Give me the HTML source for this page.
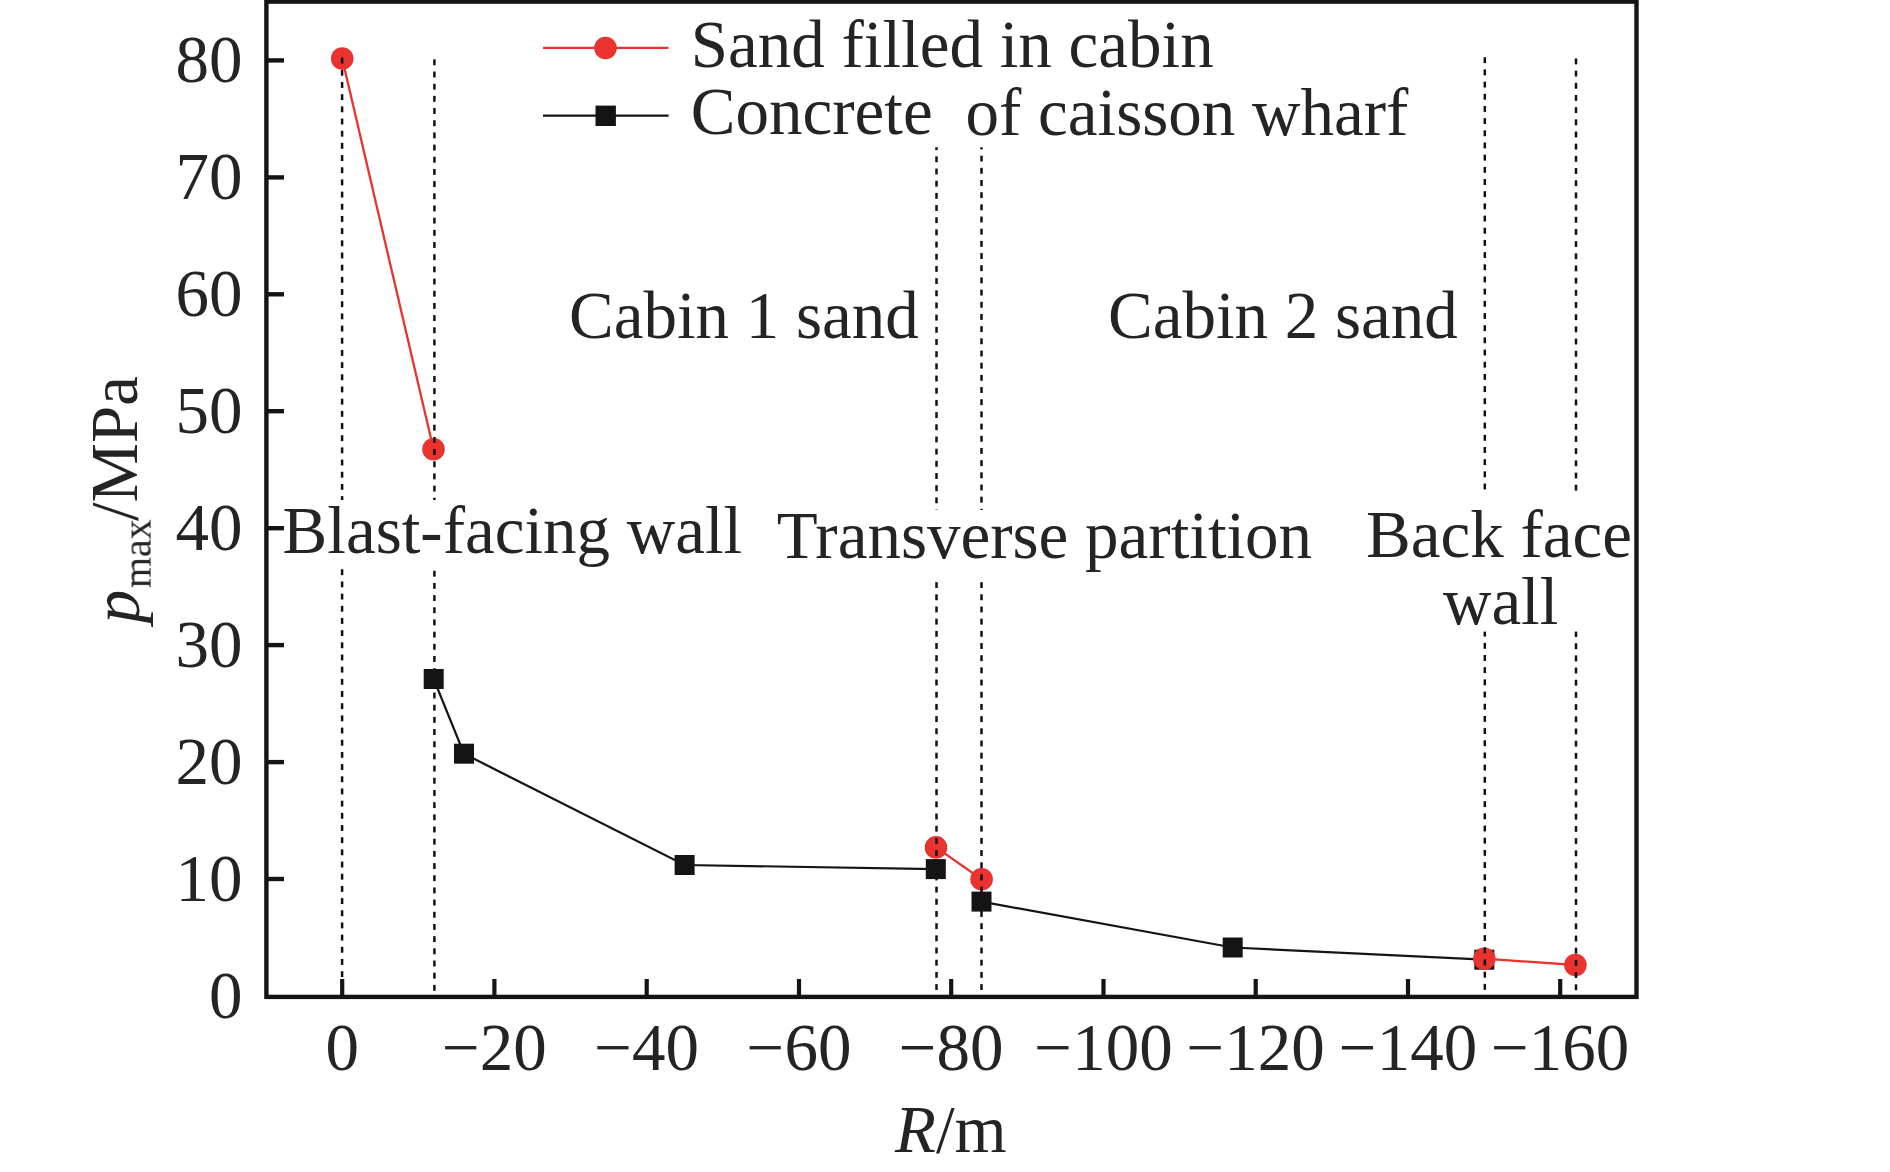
<!DOCTYPE html><html><head><meta charset="utf-8"><style>html,body{margin:0;padding:0;background:#fff;}svg{display:block;}</style></head><body>
<svg width="1890" height="1172" viewBox="0 0 1890 1172">
<rect width="1890" height="1172" fill="#fff"/>
<g font-family="'Liberation Serif', serif" font-size="67" fill="#262324">
<text x="242.5" y="1017.5" text-anchor="end">0</text>
<text x="242.5" y="900.5" text-anchor="end">10</text>
<text x="242.5" y="783.6" text-anchor="end">20</text>
<text x="242.5" y="666.6" text-anchor="end">30</text>
<text x="242.5" y="549.7" text-anchor="end">40</text>
<text x="242.5" y="432.8" text-anchor="end">50</text>
<text x="242.5" y="315.8" text-anchor="end">60</text>
<text x="242.5" y="198.9" text-anchor="end">70</text>
<text x="242.5" y="81.9" text-anchor="end">80</text>
<text x="342.2" y="1069.5" text-anchor="middle">0</text>
<text x="494.4" y="1069.5" text-anchor="middle">−20</text>
<text x="646.7" y="1069.5" text-anchor="middle">−40</text>
<text x="799.0" y="1069.5" text-anchor="middle">−60</text>
<text x="951.2" y="1069.5" text-anchor="middle">−80</text>
<text x="1103.5" y="1069.5" text-anchor="middle">−100</text>
<text x="1255.7" y="1069.5" text-anchor="middle">−120</text>
<text x="1408.0" y="1069.5" text-anchor="middle">−140</text>
<text x="1560.2" y="1069.5" text-anchor="middle">−160</text>
<text x="690.8" y="67.3">Sand filled in cabin</text>
<text x="690.8" y="133.8">Concrete</text>
<text x="965.5" y="134.6">of caisson wharf</text>
<text x="569" y="338.3">Cabin 1 sand</text>
<text x="1108" y="337.5">Cabin 2 sand</text>
<text x="282.6" y="553.4">Blast-facing wall</text>
<text x="776.8" y="558.1">Transverse partition</text>
<text x="1366" y="556.7">Back face</text>
<text x="1443" y="624.3">wall</text>
<text x="895" y="1151.9"><tspan font-style="italic">R</tspan>/m</text>
<text transform="translate(139,630) rotate(-90)"><tspan x="6.75" y="0" font-style="italic">p</tspan><tspan x="108.9" y="-2.5">/MPa</tspan></text>
<g style="will-change:transform"><text transform="translate(151,588.1) rotate(-90) scale(0.597)">max</text></g>
</g>
<polyline points="981.5,901.6 1232.7,947.5 1484.3,959.7" fill="none" stroke="#141414" stroke-width="2.2"/>
<rect x="1222.7" y="937.5" width="20" height="20" fill="#141414"/>
<rect x="1474.3" y="949.7" width="20" height="20" fill="#141414"/>
<polyline points="342.2,58.5 433.5,449.3" fill="none" stroke="#e8332f" stroke-width="2.3"/>
<circle cx="342.2" cy="58.5" r="11.3" fill="#e8332f"/>
<circle cx="433.5" cy="449.3" r="11.3" fill="#e8332f"/>
<polyline points="936.0,847.4 981.6,879.2" fill="none" stroke="#e8332f" stroke-width="2.3"/>
<circle cx="936.0" cy="847.4" r="11.3" fill="#e8332f"/>
<circle cx="981.6" cy="879.2" r="11.3" fill="#e8332f"/>
<polyline points="1484.3,958.7 1575.4,965.0" fill="none" stroke="#e8332f" stroke-width="2.3"/>
<circle cx="1484.3" cy="958.7" r="11.3" fill="#e8332f"/>
<circle cx="1575.4" cy="965.0" r="11.3" fill="#e8332f"/>
<rect x="340.85" y="57.65" width="2.5" height="5.90" fill="#111"/>
<rect x="340.85" y="69.83" width="2.5" height="5.90" fill="#111"/>
<rect x="340.85" y="82.01" width="2.5" height="5.90" fill="#111"/>
<rect x="340.85" y="94.19" width="2.5" height="5.90" fill="#111"/>
<rect x="340.85" y="106.37" width="2.5" height="5.90" fill="#111"/>
<rect x="340.85" y="118.55" width="2.5" height="5.90" fill="#111"/>
<rect x="340.85" y="130.73" width="2.5" height="5.90" fill="#111"/>
<rect x="340.85" y="142.91" width="2.5" height="5.90" fill="#111"/>
<rect x="340.85" y="155.09" width="2.5" height="5.90" fill="#111"/>
<rect x="340.85" y="167.27" width="2.5" height="5.90" fill="#111"/>
<rect x="340.85" y="179.45" width="2.5" height="5.90" fill="#111"/>
<rect x="340.85" y="191.63" width="2.5" height="5.90" fill="#111"/>
<rect x="340.85" y="203.81" width="2.5" height="5.90" fill="#111"/>
<rect x="340.85" y="215.99" width="2.5" height="5.90" fill="#111"/>
<rect x="340.85" y="228.17" width="2.5" height="5.90" fill="#111"/>
<rect x="340.85" y="240.35" width="2.5" height="5.90" fill="#111"/>
<rect x="340.85" y="252.53" width="2.5" height="5.90" fill="#111"/>
<rect x="340.85" y="264.71" width="2.5" height="5.90" fill="#111"/>
<rect x="340.85" y="276.89" width="2.5" height="5.90" fill="#111"/>
<rect x="340.85" y="289.07" width="2.5" height="5.90" fill="#111"/>
<rect x="340.85" y="301.25" width="2.5" height="5.90" fill="#111"/>
<rect x="340.85" y="313.43" width="2.5" height="5.90" fill="#111"/>
<rect x="340.85" y="325.61" width="2.5" height="5.90" fill="#111"/>
<rect x="340.85" y="337.79" width="2.5" height="5.90" fill="#111"/>
<rect x="340.85" y="349.97" width="2.5" height="5.90" fill="#111"/>
<rect x="340.85" y="362.15" width="2.5" height="5.90" fill="#111"/>
<rect x="340.85" y="374.33" width="2.5" height="5.90" fill="#111"/>
<rect x="340.85" y="386.51" width="2.5" height="5.90" fill="#111"/>
<rect x="340.85" y="398.69" width="2.5" height="5.90" fill="#111"/>
<rect x="340.85" y="410.87" width="2.5" height="5.90" fill="#111"/>
<rect x="340.85" y="423.05" width="2.5" height="5.90" fill="#111"/>
<rect x="340.85" y="435.23" width="2.5" height="5.90" fill="#111"/>
<rect x="340.85" y="447.41" width="2.5" height="5.90" fill="#111"/>
<rect x="340.85" y="459.59" width="2.5" height="5.90" fill="#111"/>
<rect x="340.85" y="471.77" width="2.5" height="5.90" fill="#111"/>
<rect x="340.85" y="483.95" width="2.5" height="5.90" fill="#111"/>
<rect x="340.85" y="496.13" width="2.5" height="3.87" fill="#111"/>
<rect x="340.85" y="569.25" width="2.5" height="5.90" fill="#111"/>
<rect x="340.85" y="581.43" width="2.5" height="5.90" fill="#111"/>
<rect x="340.85" y="593.61" width="2.5" height="5.90" fill="#111"/>
<rect x="340.85" y="605.79" width="2.5" height="5.90" fill="#111"/>
<rect x="340.85" y="617.97" width="2.5" height="5.90" fill="#111"/>
<rect x="340.85" y="630.15" width="2.5" height="5.90" fill="#111"/>
<rect x="340.85" y="642.33" width="2.5" height="5.90" fill="#111"/>
<rect x="340.85" y="654.51" width="2.5" height="5.90" fill="#111"/>
<rect x="340.85" y="666.69" width="2.5" height="5.90" fill="#111"/>
<rect x="340.85" y="678.87" width="2.5" height="5.90" fill="#111"/>
<rect x="340.85" y="691.05" width="2.5" height="5.90" fill="#111"/>
<rect x="340.85" y="703.23" width="2.5" height="5.90" fill="#111"/>
<rect x="340.85" y="715.41" width="2.5" height="5.90" fill="#111"/>
<rect x="340.85" y="727.59" width="2.5" height="5.90" fill="#111"/>
<rect x="340.85" y="739.77" width="2.5" height="5.90" fill="#111"/>
<rect x="340.85" y="751.95" width="2.5" height="5.90" fill="#111"/>
<rect x="340.85" y="764.13" width="2.5" height="5.90" fill="#111"/>
<rect x="340.85" y="776.31" width="2.5" height="5.90" fill="#111"/>
<rect x="340.85" y="788.49" width="2.5" height="5.90" fill="#111"/>
<rect x="340.85" y="800.67" width="2.5" height="5.90" fill="#111"/>
<rect x="340.85" y="812.85" width="2.5" height="5.90" fill="#111"/>
<rect x="340.85" y="825.03" width="2.5" height="5.90" fill="#111"/>
<rect x="340.85" y="837.21" width="2.5" height="5.90" fill="#111"/>
<rect x="340.85" y="849.39" width="2.5" height="5.90" fill="#111"/>
<rect x="340.85" y="861.57" width="2.5" height="5.90" fill="#111"/>
<rect x="340.85" y="873.75" width="2.5" height="5.90" fill="#111"/>
<rect x="340.85" y="885.93" width="2.5" height="5.90" fill="#111"/>
<rect x="340.85" y="898.11" width="2.5" height="5.90" fill="#111"/>
<rect x="340.85" y="910.29" width="2.5" height="5.90" fill="#111"/>
<rect x="340.85" y="922.47" width="2.5" height="5.90" fill="#111"/>
<rect x="340.85" y="934.65" width="2.5" height="5.90" fill="#111"/>
<rect x="340.85" y="946.83" width="2.5" height="5.90" fill="#111"/>
<rect x="340.85" y="959.01" width="2.5" height="5.90" fill="#111"/>
<rect x="340.85" y="971.19" width="2.5" height="5.90" fill="#111"/>
<rect x="340.85" y="983.37" width="2.5" height="5.90" fill="#111"/>
<rect x="433.15" y="59.35" width="2.5" height="5.90" fill="#111"/>
<rect x="433.15" y="71.53" width="2.5" height="5.90" fill="#111"/>
<rect x="433.15" y="83.71" width="2.5" height="5.90" fill="#111"/>
<rect x="433.15" y="95.89" width="2.5" height="5.90" fill="#111"/>
<rect x="433.15" y="108.07" width="2.5" height="5.90" fill="#111"/>
<rect x="433.15" y="120.25" width="2.5" height="5.90" fill="#111"/>
<rect x="433.15" y="132.43" width="2.5" height="5.90" fill="#111"/>
<rect x="433.15" y="144.61" width="2.5" height="5.90" fill="#111"/>
<rect x="433.15" y="156.79" width="2.5" height="5.90" fill="#111"/>
<rect x="433.15" y="168.97" width="2.5" height="5.90" fill="#111"/>
<rect x="433.15" y="181.15" width="2.5" height="5.90" fill="#111"/>
<rect x="433.15" y="193.33" width="2.5" height="5.90" fill="#111"/>
<rect x="433.15" y="205.51" width="2.5" height="5.90" fill="#111"/>
<rect x="433.15" y="217.69" width="2.5" height="5.90" fill="#111"/>
<rect x="433.15" y="229.87" width="2.5" height="5.90" fill="#111"/>
<rect x="433.15" y="242.05" width="2.5" height="5.90" fill="#111"/>
<rect x="433.15" y="254.23" width="2.5" height="5.90" fill="#111"/>
<rect x="433.15" y="266.41" width="2.5" height="5.90" fill="#111"/>
<rect x="433.15" y="278.59" width="2.5" height="5.90" fill="#111"/>
<rect x="433.15" y="290.77" width="2.5" height="5.90" fill="#111"/>
<rect x="433.15" y="302.95" width="2.5" height="5.90" fill="#111"/>
<rect x="433.15" y="315.13" width="2.5" height="5.90" fill="#111"/>
<rect x="433.15" y="327.31" width="2.5" height="5.90" fill="#111"/>
<rect x="433.15" y="339.49" width="2.5" height="5.90" fill="#111"/>
<rect x="433.15" y="351.67" width="2.5" height="5.90" fill="#111"/>
<rect x="433.15" y="363.85" width="2.5" height="5.90" fill="#111"/>
<rect x="433.15" y="376.03" width="2.5" height="5.90" fill="#111"/>
<rect x="433.15" y="388.21" width="2.5" height="5.90" fill="#111"/>
<rect x="433.15" y="400.39" width="2.5" height="5.90" fill="#111"/>
<rect x="433.15" y="412.57" width="2.5" height="5.90" fill="#111"/>
<rect x="433.15" y="424.75" width="2.5" height="5.90" fill="#111"/>
<rect x="433.15" y="436.93" width="2.5" height="5.90" fill="#111"/>
<rect x="433.15" y="449.11" width="2.5" height="5.90" fill="#111"/>
<rect x="433.15" y="461.29" width="2.5" height="5.90" fill="#111"/>
<rect x="433.15" y="473.47" width="2.5" height="5.90" fill="#111"/>
<rect x="433.15" y="485.65" width="2.5" height="5.90" fill="#111"/>
<rect x="433.15" y="497.83" width="2.5" height="2.17" fill="#111"/>
<rect x="433.15" y="570.75" width="2.5" height="5.90" fill="#111"/>
<rect x="433.15" y="582.93" width="2.5" height="5.90" fill="#111"/>
<rect x="433.15" y="595.11" width="2.5" height="5.90" fill="#111"/>
<rect x="433.15" y="607.29" width="2.5" height="5.90" fill="#111"/>
<rect x="433.15" y="619.47" width="2.5" height="5.90" fill="#111"/>
<rect x="433.15" y="631.65" width="2.5" height="5.90" fill="#111"/>
<rect x="433.15" y="643.83" width="2.5" height="5.90" fill="#111"/>
<rect x="433.15" y="656.01" width="2.5" height="5.90" fill="#111"/>
<rect x="433.15" y="668.19" width="2.5" height="5.90" fill="#111"/>
<rect x="433.15" y="680.37" width="2.5" height="5.90" fill="#111"/>
<rect x="433.15" y="692.55" width="2.5" height="5.90" fill="#111"/>
<rect x="433.15" y="704.73" width="2.5" height="5.90" fill="#111"/>
<rect x="433.15" y="716.91" width="2.5" height="5.90" fill="#111"/>
<rect x="433.15" y="729.09" width="2.5" height="5.90" fill="#111"/>
<rect x="433.15" y="741.27" width="2.5" height="5.90" fill="#111"/>
<rect x="433.15" y="753.45" width="2.5" height="5.90" fill="#111"/>
<rect x="433.15" y="765.63" width="2.5" height="5.90" fill="#111"/>
<rect x="433.15" y="777.81" width="2.5" height="5.90" fill="#111"/>
<rect x="433.15" y="789.99" width="2.5" height="5.90" fill="#111"/>
<rect x="433.15" y="802.17" width="2.5" height="5.90" fill="#111"/>
<rect x="433.15" y="814.35" width="2.5" height="5.90" fill="#111"/>
<rect x="433.15" y="826.53" width="2.5" height="5.90" fill="#111"/>
<rect x="433.15" y="838.71" width="2.5" height="5.90" fill="#111"/>
<rect x="433.15" y="850.89" width="2.5" height="5.90" fill="#111"/>
<rect x="433.15" y="863.07" width="2.5" height="5.90" fill="#111"/>
<rect x="433.15" y="875.25" width="2.5" height="5.90" fill="#111"/>
<rect x="433.15" y="887.43" width="2.5" height="5.90" fill="#111"/>
<rect x="433.15" y="899.61" width="2.5" height="5.90" fill="#111"/>
<rect x="433.15" y="911.79" width="2.5" height="5.90" fill="#111"/>
<rect x="433.15" y="923.97" width="2.5" height="5.90" fill="#111"/>
<rect x="433.15" y="936.15" width="2.5" height="5.90" fill="#111"/>
<rect x="433.15" y="948.33" width="2.5" height="5.90" fill="#111"/>
<rect x="433.15" y="960.51" width="2.5" height="5.90" fill="#111"/>
<rect x="433.15" y="972.69" width="2.5" height="5.90" fill="#111"/>
<rect x="433.15" y="984.87" width="2.5" height="5.90" fill="#111"/>
<rect x="935.25" y="147.30" width="2.5" height="2.77" fill="#111"/>
<rect x="935.25" y="156.35" width="2.5" height="5.90" fill="#111"/>
<rect x="935.25" y="168.53" width="2.5" height="5.90" fill="#111"/>
<rect x="935.25" y="180.71" width="2.5" height="5.90" fill="#111"/>
<rect x="935.25" y="192.89" width="2.5" height="5.90" fill="#111"/>
<rect x="935.25" y="205.07" width="2.5" height="5.90" fill="#111"/>
<rect x="935.25" y="217.25" width="2.5" height="5.90" fill="#111"/>
<rect x="935.25" y="229.43" width="2.5" height="5.90" fill="#111"/>
<rect x="935.25" y="241.61" width="2.5" height="5.90" fill="#111"/>
<rect x="935.25" y="253.79" width="2.5" height="5.90" fill="#111"/>
<rect x="935.25" y="265.97" width="2.5" height="5.90" fill="#111"/>
<rect x="935.25" y="278.15" width="2.5" height="5.90" fill="#111"/>
<rect x="935.25" y="290.33" width="2.5" height="5.90" fill="#111"/>
<rect x="935.25" y="302.51" width="2.5" height="5.90" fill="#111"/>
<rect x="935.25" y="314.69" width="2.5" height="5.90" fill="#111"/>
<rect x="935.25" y="326.87" width="2.5" height="5.90" fill="#111"/>
<rect x="935.25" y="339.05" width="2.5" height="5.90" fill="#111"/>
<rect x="935.25" y="351.23" width="2.5" height="5.90" fill="#111"/>
<rect x="935.25" y="363.41" width="2.5" height="5.90" fill="#111"/>
<rect x="935.25" y="375.59" width="2.5" height="5.90" fill="#111"/>
<rect x="935.25" y="387.77" width="2.5" height="5.90" fill="#111"/>
<rect x="935.25" y="399.95" width="2.5" height="5.90" fill="#111"/>
<rect x="935.25" y="412.13" width="2.5" height="5.90" fill="#111"/>
<rect x="935.25" y="424.31" width="2.5" height="5.90" fill="#111"/>
<rect x="935.25" y="436.49" width="2.5" height="5.90" fill="#111"/>
<rect x="935.25" y="448.67" width="2.5" height="5.90" fill="#111"/>
<rect x="935.25" y="460.85" width="2.5" height="5.90" fill="#111"/>
<rect x="935.25" y="473.03" width="2.5" height="5.90" fill="#111"/>
<rect x="935.25" y="485.21" width="2.5" height="5.90" fill="#111"/>
<rect x="935.25" y="497.39" width="2.5" height="5.90" fill="#111"/>
<rect x="935.25" y="509.57" width="2.5" height="0.43" fill="#111"/>
<rect x="935.25" y="582.15" width="2.5" height="5.90" fill="#111"/>
<rect x="935.25" y="594.33" width="2.5" height="5.90" fill="#111"/>
<rect x="935.25" y="606.51" width="2.5" height="5.90" fill="#111"/>
<rect x="935.25" y="618.69" width="2.5" height="5.90" fill="#111"/>
<rect x="935.25" y="630.87" width="2.5" height="5.90" fill="#111"/>
<rect x="935.25" y="643.05" width="2.5" height="5.90" fill="#111"/>
<rect x="935.25" y="655.23" width="2.5" height="5.90" fill="#111"/>
<rect x="935.25" y="667.41" width="2.5" height="5.90" fill="#111"/>
<rect x="935.25" y="679.59" width="2.5" height="5.90" fill="#111"/>
<rect x="935.25" y="691.77" width="2.5" height="5.90" fill="#111"/>
<rect x="935.25" y="703.95" width="2.5" height="5.90" fill="#111"/>
<rect x="935.25" y="716.13" width="2.5" height="5.90" fill="#111"/>
<rect x="935.25" y="728.31" width="2.5" height="5.90" fill="#111"/>
<rect x="935.25" y="740.49" width="2.5" height="5.90" fill="#111"/>
<rect x="935.25" y="752.67" width="2.5" height="5.90" fill="#111"/>
<rect x="935.25" y="764.85" width="2.5" height="5.90" fill="#111"/>
<rect x="935.25" y="777.03" width="2.5" height="5.90" fill="#111"/>
<rect x="935.25" y="789.21" width="2.5" height="5.90" fill="#111"/>
<rect x="935.25" y="801.39" width="2.5" height="5.90" fill="#111"/>
<rect x="935.25" y="813.57" width="2.5" height="5.90" fill="#111"/>
<rect x="935.25" y="825.75" width="2.5" height="5.90" fill="#111"/>
<rect x="935.25" y="837.93" width="2.5" height="5.90" fill="#111"/>
<rect x="935.25" y="850.11" width="2.5" height="5.90" fill="#111"/>
<rect x="935.25" y="862.29" width="2.5" height="5.90" fill="#111"/>
<rect x="935.25" y="874.47" width="2.5" height="5.90" fill="#111"/>
<rect x="935.25" y="886.65" width="2.5" height="5.90" fill="#111"/>
<rect x="935.25" y="898.83" width="2.5" height="5.90" fill="#111"/>
<rect x="935.25" y="911.01" width="2.5" height="5.90" fill="#111"/>
<rect x="935.25" y="923.19" width="2.5" height="5.90" fill="#111"/>
<rect x="935.25" y="935.37" width="2.5" height="5.90" fill="#111"/>
<rect x="935.25" y="947.55" width="2.5" height="5.90" fill="#111"/>
<rect x="935.25" y="959.73" width="2.5" height="5.90" fill="#111"/>
<rect x="935.25" y="971.91" width="2.5" height="5.90" fill="#111"/>
<rect x="935.25" y="984.09" width="2.5" height="5.90" fill="#111"/>
<rect x="980.25" y="147.30" width="2.5" height="2.07" fill="#111"/>
<rect x="980.25" y="155.65" width="2.5" height="5.90" fill="#111"/>
<rect x="980.25" y="167.83" width="2.5" height="5.90" fill="#111"/>
<rect x="980.25" y="180.01" width="2.5" height="5.90" fill="#111"/>
<rect x="980.25" y="192.19" width="2.5" height="5.90" fill="#111"/>
<rect x="980.25" y="204.37" width="2.5" height="5.90" fill="#111"/>
<rect x="980.25" y="216.55" width="2.5" height="5.90" fill="#111"/>
<rect x="980.25" y="228.73" width="2.5" height="5.90" fill="#111"/>
<rect x="980.25" y="240.91" width="2.5" height="5.90" fill="#111"/>
<rect x="980.25" y="253.09" width="2.5" height="5.90" fill="#111"/>
<rect x="980.25" y="265.27" width="2.5" height="5.90" fill="#111"/>
<rect x="980.25" y="277.45" width="2.5" height="5.90" fill="#111"/>
<rect x="980.25" y="289.63" width="2.5" height="5.90" fill="#111"/>
<rect x="980.25" y="301.81" width="2.5" height="5.90" fill="#111"/>
<rect x="980.25" y="313.99" width="2.5" height="5.90" fill="#111"/>
<rect x="980.25" y="326.17" width="2.5" height="5.90" fill="#111"/>
<rect x="980.25" y="338.35" width="2.5" height="5.90" fill="#111"/>
<rect x="980.25" y="350.53" width="2.5" height="5.90" fill="#111"/>
<rect x="980.25" y="362.71" width="2.5" height="5.90" fill="#111"/>
<rect x="980.25" y="374.89" width="2.5" height="5.90" fill="#111"/>
<rect x="980.25" y="387.07" width="2.5" height="5.90" fill="#111"/>
<rect x="980.25" y="399.25" width="2.5" height="5.90" fill="#111"/>
<rect x="980.25" y="411.43" width="2.5" height="5.90" fill="#111"/>
<rect x="980.25" y="423.61" width="2.5" height="5.90" fill="#111"/>
<rect x="980.25" y="435.79" width="2.5" height="5.90" fill="#111"/>
<rect x="980.25" y="447.97" width="2.5" height="5.90" fill="#111"/>
<rect x="980.25" y="460.15" width="2.5" height="5.90" fill="#111"/>
<rect x="980.25" y="472.33" width="2.5" height="5.90" fill="#111"/>
<rect x="980.25" y="484.51" width="2.5" height="5.90" fill="#111"/>
<rect x="980.25" y="496.69" width="2.5" height="5.90" fill="#111"/>
<rect x="980.25" y="508.87" width="2.5" height="1.13" fill="#111"/>
<rect x="980.25" y="582.15" width="2.5" height="5.90" fill="#111"/>
<rect x="980.25" y="594.33" width="2.5" height="5.90" fill="#111"/>
<rect x="980.25" y="606.51" width="2.5" height="5.90" fill="#111"/>
<rect x="980.25" y="618.69" width="2.5" height="5.90" fill="#111"/>
<rect x="980.25" y="630.87" width="2.5" height="5.90" fill="#111"/>
<rect x="980.25" y="643.05" width="2.5" height="5.90" fill="#111"/>
<rect x="980.25" y="655.23" width="2.5" height="5.90" fill="#111"/>
<rect x="980.25" y="667.41" width="2.5" height="5.90" fill="#111"/>
<rect x="980.25" y="679.59" width="2.5" height="5.90" fill="#111"/>
<rect x="980.25" y="691.77" width="2.5" height="5.90" fill="#111"/>
<rect x="980.25" y="703.95" width="2.5" height="5.90" fill="#111"/>
<rect x="980.25" y="716.13" width="2.5" height="5.90" fill="#111"/>
<rect x="980.25" y="728.31" width="2.5" height="5.90" fill="#111"/>
<rect x="980.25" y="740.49" width="2.5" height="5.90" fill="#111"/>
<rect x="980.25" y="752.67" width="2.5" height="5.90" fill="#111"/>
<rect x="980.25" y="764.85" width="2.5" height="5.90" fill="#111"/>
<rect x="980.25" y="777.03" width="2.5" height="5.90" fill="#111"/>
<rect x="980.25" y="789.21" width="2.5" height="5.90" fill="#111"/>
<rect x="980.25" y="801.39" width="2.5" height="5.90" fill="#111"/>
<rect x="980.25" y="813.57" width="2.5" height="5.90" fill="#111"/>
<rect x="980.25" y="825.75" width="2.5" height="5.90" fill="#111"/>
<rect x="980.25" y="837.93" width="2.5" height="5.90" fill="#111"/>
<rect x="980.25" y="850.11" width="2.5" height="5.90" fill="#111"/>
<rect x="980.25" y="862.29" width="2.5" height="5.90" fill="#111"/>
<rect x="980.25" y="874.47" width="2.5" height="5.90" fill="#111"/>
<rect x="980.25" y="886.65" width="2.5" height="5.90" fill="#111"/>
<rect x="980.25" y="898.83" width="2.5" height="5.90" fill="#111"/>
<rect x="980.25" y="911.01" width="2.5" height="5.90" fill="#111"/>
<rect x="980.25" y="923.19" width="2.5" height="5.90" fill="#111"/>
<rect x="980.25" y="935.37" width="2.5" height="5.90" fill="#111"/>
<rect x="980.25" y="947.55" width="2.5" height="5.90" fill="#111"/>
<rect x="980.25" y="959.73" width="2.5" height="5.90" fill="#111"/>
<rect x="980.25" y="971.91" width="2.5" height="5.90" fill="#111"/>
<rect x="980.25" y="984.09" width="2.5" height="5.90" fill="#111"/>
<rect x="1483.55" y="57.25" width="2.5" height="5.90" fill="#111"/>
<rect x="1483.55" y="69.43" width="2.5" height="5.90" fill="#111"/>
<rect x="1483.55" y="81.61" width="2.5" height="5.90" fill="#111"/>
<rect x="1483.55" y="93.79" width="2.5" height="5.90" fill="#111"/>
<rect x="1483.55" y="105.97" width="2.5" height="5.90" fill="#111"/>
<rect x="1483.55" y="118.15" width="2.5" height="5.90" fill="#111"/>
<rect x="1483.55" y="130.33" width="2.5" height="5.90" fill="#111"/>
<rect x="1483.55" y="142.51" width="2.5" height="5.90" fill="#111"/>
<rect x="1483.55" y="154.69" width="2.5" height="5.90" fill="#111"/>
<rect x="1483.55" y="166.87" width="2.5" height="5.90" fill="#111"/>
<rect x="1483.55" y="179.05" width="2.5" height="5.90" fill="#111"/>
<rect x="1483.55" y="191.23" width="2.5" height="5.90" fill="#111"/>
<rect x="1483.55" y="203.41" width="2.5" height="5.90" fill="#111"/>
<rect x="1483.55" y="215.59" width="2.5" height="5.90" fill="#111"/>
<rect x="1483.55" y="227.77" width="2.5" height="5.90" fill="#111"/>
<rect x="1483.55" y="239.95" width="2.5" height="5.90" fill="#111"/>
<rect x="1483.55" y="252.13" width="2.5" height="5.90" fill="#111"/>
<rect x="1483.55" y="264.31" width="2.5" height="5.90" fill="#111"/>
<rect x="1483.55" y="276.49" width="2.5" height="5.90" fill="#111"/>
<rect x="1483.55" y="288.67" width="2.5" height="5.90" fill="#111"/>
<rect x="1483.55" y="300.85" width="2.5" height="5.90" fill="#111"/>
<rect x="1483.55" y="313.03" width="2.5" height="5.90" fill="#111"/>
<rect x="1483.55" y="325.21" width="2.5" height="5.90" fill="#111"/>
<rect x="1483.55" y="337.39" width="2.5" height="5.90" fill="#111"/>
<rect x="1483.55" y="349.57" width="2.5" height="5.90" fill="#111"/>
<rect x="1483.55" y="361.75" width="2.5" height="5.90" fill="#111"/>
<rect x="1483.55" y="373.93" width="2.5" height="5.90" fill="#111"/>
<rect x="1483.55" y="386.11" width="2.5" height="5.90" fill="#111"/>
<rect x="1483.55" y="398.29" width="2.5" height="5.90" fill="#111"/>
<rect x="1483.55" y="410.47" width="2.5" height="5.90" fill="#111"/>
<rect x="1483.55" y="422.65" width="2.5" height="5.90" fill="#111"/>
<rect x="1483.55" y="434.83" width="2.5" height="5.90" fill="#111"/>
<rect x="1483.55" y="447.01" width="2.5" height="5.90" fill="#111"/>
<rect x="1483.55" y="459.19" width="2.5" height="5.90" fill="#111"/>
<rect x="1483.55" y="471.37" width="2.5" height="5.90" fill="#111"/>
<rect x="1483.55" y="483.55" width="2.5" height="5.90" fill="#111"/>
<rect x="1483.55" y="631.60" width="2.5" height="4.97" fill="#111"/>
<rect x="1483.55" y="642.85" width="2.5" height="5.90" fill="#111"/>
<rect x="1483.55" y="655.03" width="2.5" height="5.90" fill="#111"/>
<rect x="1483.55" y="667.21" width="2.5" height="5.90" fill="#111"/>
<rect x="1483.55" y="679.39" width="2.5" height="5.90" fill="#111"/>
<rect x="1483.55" y="691.57" width="2.5" height="5.90" fill="#111"/>
<rect x="1483.55" y="703.75" width="2.5" height="5.90" fill="#111"/>
<rect x="1483.55" y="715.93" width="2.5" height="5.90" fill="#111"/>
<rect x="1483.55" y="728.11" width="2.5" height="5.90" fill="#111"/>
<rect x="1483.55" y="740.29" width="2.5" height="5.90" fill="#111"/>
<rect x="1483.55" y="752.47" width="2.5" height="5.90" fill="#111"/>
<rect x="1483.55" y="764.65" width="2.5" height="5.90" fill="#111"/>
<rect x="1483.55" y="776.83" width="2.5" height="5.90" fill="#111"/>
<rect x="1483.55" y="789.01" width="2.5" height="5.90" fill="#111"/>
<rect x="1483.55" y="801.19" width="2.5" height="5.90" fill="#111"/>
<rect x="1483.55" y="813.37" width="2.5" height="5.90" fill="#111"/>
<rect x="1483.55" y="825.55" width="2.5" height="5.90" fill="#111"/>
<rect x="1483.55" y="837.73" width="2.5" height="5.90" fill="#111"/>
<rect x="1483.55" y="849.91" width="2.5" height="5.90" fill="#111"/>
<rect x="1483.55" y="862.09" width="2.5" height="5.90" fill="#111"/>
<rect x="1483.55" y="874.27" width="2.5" height="5.90" fill="#111"/>
<rect x="1483.55" y="886.45" width="2.5" height="5.90" fill="#111"/>
<rect x="1483.55" y="898.63" width="2.5" height="5.90" fill="#111"/>
<rect x="1483.55" y="910.81" width="2.5" height="5.90" fill="#111"/>
<rect x="1483.55" y="922.99" width="2.5" height="5.90" fill="#111"/>
<rect x="1483.55" y="935.17" width="2.5" height="5.90" fill="#111"/>
<rect x="1483.55" y="947.35" width="2.5" height="5.90" fill="#111"/>
<rect x="1483.55" y="959.53" width="2.5" height="5.90" fill="#111"/>
<rect x="1483.55" y="971.71" width="2.5" height="5.90" fill="#111"/>
<rect x="1483.55" y="983.89" width="2.5" height="5.90" fill="#111"/>
<rect x="1574.75" y="58.45" width="2.5" height="5.90" fill="#111"/>
<rect x="1574.75" y="70.63" width="2.5" height="5.90" fill="#111"/>
<rect x="1574.75" y="82.81" width="2.5" height="5.90" fill="#111"/>
<rect x="1574.75" y="94.99" width="2.5" height="5.90" fill="#111"/>
<rect x="1574.75" y="107.17" width="2.5" height="5.90" fill="#111"/>
<rect x="1574.75" y="119.35" width="2.5" height="5.90" fill="#111"/>
<rect x="1574.75" y="131.53" width="2.5" height="5.90" fill="#111"/>
<rect x="1574.75" y="143.71" width="2.5" height="5.90" fill="#111"/>
<rect x="1574.75" y="155.89" width="2.5" height="5.90" fill="#111"/>
<rect x="1574.75" y="168.07" width="2.5" height="5.90" fill="#111"/>
<rect x="1574.75" y="180.25" width="2.5" height="5.90" fill="#111"/>
<rect x="1574.75" y="192.43" width="2.5" height="5.90" fill="#111"/>
<rect x="1574.75" y="204.61" width="2.5" height="5.90" fill="#111"/>
<rect x="1574.75" y="216.79" width="2.5" height="5.90" fill="#111"/>
<rect x="1574.75" y="228.97" width="2.5" height="5.90" fill="#111"/>
<rect x="1574.75" y="241.15" width="2.5" height="5.90" fill="#111"/>
<rect x="1574.75" y="253.33" width="2.5" height="5.90" fill="#111"/>
<rect x="1574.75" y="265.51" width="2.5" height="5.90" fill="#111"/>
<rect x="1574.75" y="277.69" width="2.5" height="5.90" fill="#111"/>
<rect x="1574.75" y="289.87" width="2.5" height="5.90" fill="#111"/>
<rect x="1574.75" y="302.05" width="2.5" height="5.90" fill="#111"/>
<rect x="1574.75" y="314.23" width="2.5" height="5.90" fill="#111"/>
<rect x="1574.75" y="326.41" width="2.5" height="5.90" fill="#111"/>
<rect x="1574.75" y="338.59" width="2.5" height="5.90" fill="#111"/>
<rect x="1574.75" y="350.77" width="2.5" height="5.90" fill="#111"/>
<rect x="1574.75" y="362.95" width="2.5" height="5.90" fill="#111"/>
<rect x="1574.75" y="375.13" width="2.5" height="5.90" fill="#111"/>
<rect x="1574.75" y="387.31" width="2.5" height="5.90" fill="#111"/>
<rect x="1574.75" y="399.49" width="2.5" height="5.90" fill="#111"/>
<rect x="1574.75" y="411.67" width="2.5" height="5.90" fill="#111"/>
<rect x="1574.75" y="423.85" width="2.5" height="5.90" fill="#111"/>
<rect x="1574.75" y="436.03" width="2.5" height="5.90" fill="#111"/>
<rect x="1574.75" y="448.21" width="2.5" height="5.90" fill="#111"/>
<rect x="1574.75" y="460.39" width="2.5" height="5.90" fill="#111"/>
<rect x="1574.75" y="472.57" width="2.5" height="5.90" fill="#111"/>
<rect x="1574.75" y="484.75" width="2.5" height="5.90" fill="#111"/>
<rect x="1574.75" y="631.60" width="2.5" height="5.37" fill="#111"/>
<rect x="1574.75" y="643.25" width="2.5" height="5.90" fill="#111"/>
<rect x="1574.75" y="655.43" width="2.5" height="5.90" fill="#111"/>
<rect x="1574.75" y="667.61" width="2.5" height="5.90" fill="#111"/>
<rect x="1574.75" y="679.79" width="2.5" height="5.90" fill="#111"/>
<rect x="1574.75" y="691.97" width="2.5" height="5.90" fill="#111"/>
<rect x="1574.75" y="704.15" width="2.5" height="5.90" fill="#111"/>
<rect x="1574.75" y="716.33" width="2.5" height="5.90" fill="#111"/>
<rect x="1574.75" y="728.51" width="2.5" height="5.90" fill="#111"/>
<rect x="1574.75" y="740.69" width="2.5" height="5.90" fill="#111"/>
<rect x="1574.75" y="752.87" width="2.5" height="5.90" fill="#111"/>
<rect x="1574.75" y="765.05" width="2.5" height="5.90" fill="#111"/>
<rect x="1574.75" y="777.23" width="2.5" height="5.90" fill="#111"/>
<rect x="1574.75" y="789.41" width="2.5" height="5.90" fill="#111"/>
<rect x="1574.75" y="801.59" width="2.5" height="5.90" fill="#111"/>
<rect x="1574.75" y="813.77" width="2.5" height="5.90" fill="#111"/>
<rect x="1574.75" y="825.95" width="2.5" height="5.90" fill="#111"/>
<rect x="1574.75" y="838.13" width="2.5" height="5.90" fill="#111"/>
<rect x="1574.75" y="850.31" width="2.5" height="5.90" fill="#111"/>
<rect x="1574.75" y="862.49" width="2.5" height="5.90" fill="#111"/>
<rect x="1574.75" y="874.67" width="2.5" height="5.90" fill="#111"/>
<rect x="1574.75" y="886.85" width="2.5" height="5.90" fill="#111"/>
<rect x="1574.75" y="899.03" width="2.5" height="5.90" fill="#111"/>
<rect x="1574.75" y="911.21" width="2.5" height="5.90" fill="#111"/>
<rect x="1574.75" y="923.39" width="2.5" height="5.90" fill="#111"/>
<rect x="1574.75" y="935.57" width="2.5" height="5.90" fill="#111"/>
<rect x="1574.75" y="947.75" width="2.5" height="5.90" fill="#111"/>
<rect x="1574.75" y="959.93" width="2.5" height="5.90" fill="#111"/>
<rect x="1574.75" y="972.11" width="2.5" height="5.90" fill="#111"/>
<rect x="1574.75" y="984.29" width="2.5" height="5.90" fill="#111"/>
<polyline points="433.7,679.0 464.0,753.7 684.6,865.0 935.8,869.1" fill="none" stroke="#141414" stroke-width="2.2"/>
<rect x="423.7" y="669.0" width="20" height="20" fill="#141414"/>
<rect x="454.0" y="743.7" width="20" height="20" fill="#141414"/>
<rect x="674.6" y="855.0" width="20" height="20" fill="#141414"/>
<rect x="925.8" y="859.1" width="20" height="20" fill="#141414"/>
<rect x="971.5" y="891.6" width="20" height="20" fill="#141414"/>
<line x1="543" y1="47.9" x2="668.5" y2="47.9" stroke="#e8332f" stroke-width="2.2"/>
<circle cx="605.5" cy="48.0" r="11.3" fill="#e8332f"/>
<line x1="543" y1="115.7" x2="668.6" y2="115.7" stroke="#141414" stroke-width="2.2"/>
<rect x="595.5" y="105.6" width="20.4" height="20.4" fill="#141414"/>
<rect x="266.4" y="1.6" width="1370.1" height="995.3" fill="none" stroke="#141414" stroke-width="4.4"/>
<line x1="266" y1="879.0" x2="284" y2="879.0" stroke="#141414" stroke-width="4.4"/>
<line x1="266" y1="762.1" x2="284" y2="762.1" stroke="#141414" stroke-width="4.4"/>
<line x1="266" y1="645.1" x2="284" y2="645.1" stroke="#141414" stroke-width="4.4"/>
<line x1="266" y1="528.2" x2="284" y2="528.2" stroke="#141414" stroke-width="4.4"/>
<line x1="266" y1="411.2" x2="284" y2="411.2" stroke="#141414" stroke-width="4.4"/>
<line x1="266" y1="294.3" x2="284" y2="294.3" stroke="#141414" stroke-width="4.4"/>
<line x1="266" y1="177.4" x2="284" y2="177.4" stroke="#141414" stroke-width="4.4"/>
<line x1="266" y1="60.4" x2="284" y2="60.4" stroke="#141414" stroke-width="4.4"/>
<line x1="342.2" y1="979" x2="342.2" y2="997" stroke="#141414" stroke-width="4.2"/>
<line x1="494.4" y1="979" x2="494.4" y2="997" stroke="#141414" stroke-width="4.2"/>
<line x1="646.7" y1="979" x2="646.7" y2="997" stroke="#141414" stroke-width="4.2"/>
<line x1="799.0" y1="979" x2="799.0" y2="997" stroke="#141414" stroke-width="4.2"/>
<line x1="951.2" y1="979" x2="951.2" y2="997" stroke="#141414" stroke-width="4.2"/>
<line x1="1103.5" y1="979" x2="1103.5" y2="997" stroke="#141414" stroke-width="4.2"/>
<line x1="1255.7" y1="979" x2="1255.7" y2="997" stroke="#141414" stroke-width="4.2"/>
<line x1="1408.0" y1="979" x2="1408.0" y2="997" stroke="#141414" stroke-width="4.2"/>
<line x1="1560.2" y1="979" x2="1560.2" y2="997" stroke="#141414" stroke-width="4.2"/>
</svg></body></html>
